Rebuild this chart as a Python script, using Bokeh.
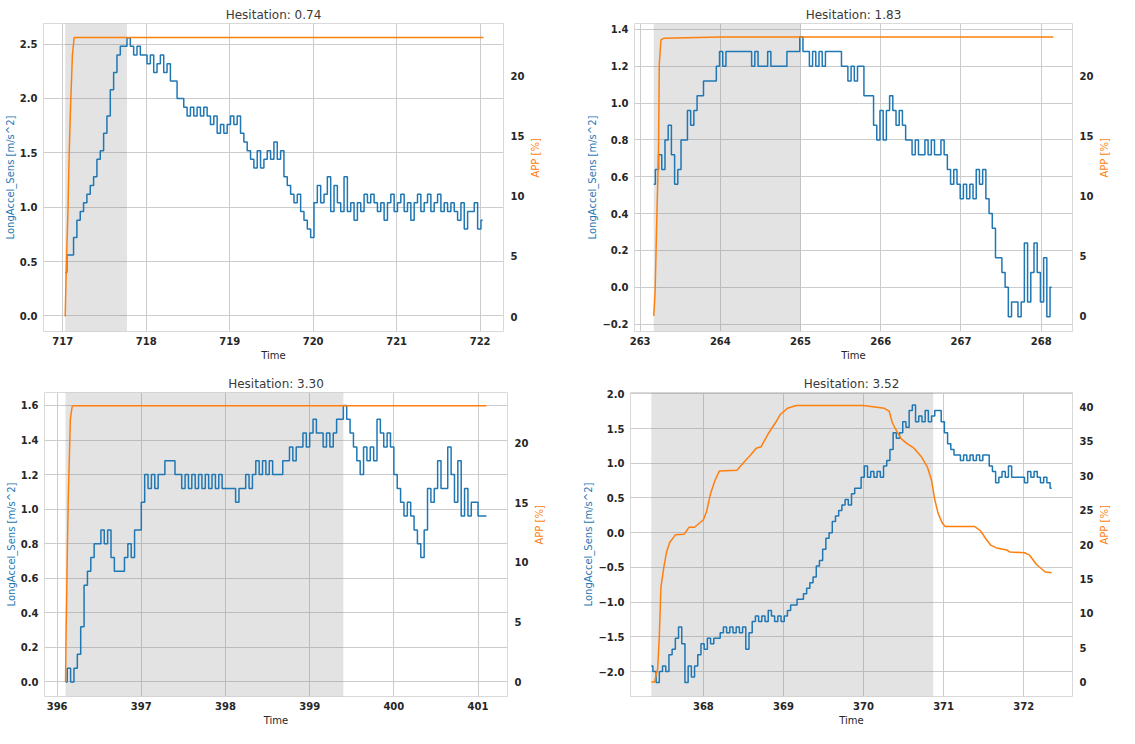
import math
import numpy as np
from bokeh.plotting import figure
from bokeh.layouts import column, row
from bokeh.models import (Range1d, LinearAxis, BoxAnnotation, SingleIntervalTicker,
                          CustomJSTickFormatter)
from bokeh.embed import file_html
from bokeh.resources import INLINE

# ---------------- data ----------------
titles = ["Hesitation: 0.74", "Hesitation: 1.83", "Hesitation: 3.30", "Hesitation: 3.52"]
hesitation = [0.74, 1.83, 3.30, 3.52]
span_start = [717.03, 263.17, 396.10, 367.35]

dt = 0.04
accel_t0 = [717.03, 263.17, 396.10, 367.35]

accel_1 = [0.40, 0.56, 0.56, 0.72, 0.88, 0.96, 1.04, 1.12, 1.20, 1.28,
           1.44, 1.52, 1.68, 1.84, 2.08, 2.24, 2.40, 2.48, 2.48, 2.56,
           2.48, 2.40, 2.48, 2.40, 2.40, 2.32, 2.40, 2.24, 2.32, 2.40,
           2.24, 2.32, 2.16, 2.16, 2.00, 2.00, 1.92, 1.84, 1.92, 1.84,
           1.92, 1.84, 1.92, 1.84, 1.76, 1.84, 1.68, 1.76, 1.68, 1.76,
           1.84, 1.76, 1.84, 1.68, 1.60, 1.52, 1.44, 1.36, 1.52, 1.36,
           1.44, 1.52, 1.44, 1.60, 1.44, 1.52, 1.28, 1.20, 1.12, 1.04,
           1.12, 0.96, 0.88, 0.80, 0.72, 1.04, 1.20, 1.04, 1.12, 1.28,
           0.96, 1.20, 1.04, 0.96, 1.28, 0.96, 1.04, 0.88, 1.04, 0.96,
           1.12, 1.04, 1.12, 1.04, 0.96, 1.04, 0.88, 1.04, 1.12, 0.96,
           1.04, 1.12, 0.96, 1.04, 0.88, 1.04, 1.12, 0.96, 1.04, 1.12,
           0.96, 1.04, 1.12, 0.96, 1.04, 0.96, 1.04, 0.96, 0.88, 1.04,
           0.80, 0.96, 0.96, 1.04, 0.80, 0.88]

accel_2 = [0.56, 0.64, 0.72, 0.64, 0.80, 0.88, 0.72, 0.56, 0.64, 0.80,
           0.80, 0.96, 0.88, 0.96, 1.04, 1.04, 1.12, 1.12, 1.12, 1.12,
           1.20, 1.28, 1.20, 1.28, 1.28, 1.28, 1.28, 1.28, 1.28, 1.28,
           1.28, 1.20, 1.28, 1.20, 1.20, 1.20, 1.28, 1.20, 1.20, 1.20,
           1.20, 1.20, 1.28, 1.28, 1.28, 1.28, 1.36, 1.28, 1.28, 1.20,
           1.28, 1.20, 1.28, 1.20, 1.28, 1.28, 1.28, 1.28, 1.28, 1.20,
           1.20, 1.12, 1.20, 1.12, 1.20, 1.20, 1.04, 1.04, 1.04, 0.88,
           0.80, 0.96, 0.80, 0.96, 1.04, 0.96, 0.88, 0.96, 0.88, 0.80,
           0.80, 0.72, 0.80, 0.72, 0.72, 0.80, 0.72, 0.80, 0.72, 0.72,
           0.80, 0.72, 0.64, 0.56, 0.64, 0.56, 0.48, 0.56, 0.48, 0.56,
           0.48, 0.64, 0.56, 0.64, 0.48, 0.40, 0.32, 0.16, 0.16, 0.08,
           0.00, -0.16, -0.08, -0.08, -0.16, -0.08, 0.24, -0.08, 0.08, 0.24,
           0.08, -0.08, 0.16, -0.16, 0.00]

accel_3 = [0.00, 0.08, 0.00, 0.08, 0.16, 0.32, 0.56, 0.64, 0.72, 0.80,
           0.80, 0.88, 0.80, 0.88, 0.72, 0.64, 0.64, 0.64, 0.72, 0.80,
           0.72, 0.88, 0.88, 1.04, 1.20, 1.12, 1.20, 1.12, 1.20, 1.20,
           1.28, 1.28, 1.28, 1.20, 1.20, 1.12, 1.20, 1.12, 1.20, 1.12,
           1.20, 1.12, 1.20, 1.12, 1.20, 1.12, 1.20, 1.12, 1.12, 1.12,
           1.12, 1.04, 1.12, 1.12, 1.20, 1.12, 1.20, 1.28, 1.20, 1.28,
           1.20, 1.28, 1.20, 1.20, 1.20, 1.28, 1.28, 1.36, 1.28, 1.36,
           1.36, 1.44, 1.36, 1.44, 1.52, 1.44, 1.44, 1.36, 1.44, 1.36,
           1.44, 1.52, 1.52, 1.60, 1.52, 1.44, 1.36, 1.28, 1.20, 1.36,
           1.28, 1.36, 1.28, 1.52, 1.44, 1.36, 1.44, 1.36, 1.20, 1.12,
           1.04, 0.96, 1.04, 0.96, 0.88, 0.80, 0.72, 0.88, 1.12, 1.04,
           1.12, 1.28, 1.12, 1.12, 1.36, 1.20, 1.04, 1.28, 0.96, 1.12,
           0.96, 1.04, 1.04, 0.96, 0.96, 0.96]

accel_4 = [-1.92, -2.00, -2.16, -2.00, -1.92, -2.00, -1.76, -1.68, -1.52, -1.36,
           -1.60, -2.16, -1.92, -2.08, -1.92, -1.76, -1.60, -1.68, -1.52, -1.60,
           -1.52, -1.52, -1.44, -1.36, -1.44, -1.36, -1.44, -1.36, -1.44, -1.36,
           -1.68, -1.44, -1.28, -1.20, -1.28, -1.20, -1.28, -1.12, -1.20, -1.28,
           -1.20, -1.28, -1.20, -1.12, -1.04, -1.04, -0.96, -0.96, -0.88, -0.80,
           -0.72, -0.64, -0.48, -0.40, -0.24, -0.08, 0.00, 0.16, 0.24, 0.32,
           0.40, 0.48, 0.40, 0.56, 0.64, 0.64, 0.80, 0.96, 0.80, 0.88,
           0.80, 0.88, 0.80, 0.96, 1.04, 1.20, 1.44, 1.36, 1.44, 1.60,
           1.52, 1.76, 1.84, 1.60, 1.68, 1.60, 1.76, 1.60, 1.68, 1.76,
           1.76, 1.60, 1.44, 1.28, 1.20, 1.12, 1.12, 1.04, 1.12, 1.04,
           1.12, 1.04, 1.12, 1.04, 1.12, 1.12, 0.96, 0.88, 0.72, 0.80,
           0.88, 0.80, 0.96, 0.80, 0.80, 0.80, 0.80, 0.72, 0.88, 0.80,
           0.88, 0.80, 0.72, 0.80, 0.72, 0.64]

app_t_1 = [717.03, 717.043, 717.064, 717.077, 717.094, 717.116, 717.137, 722.04]
app_1 = [0.0, 4.1, 9.0, 13.3, 17.4, 21.7, 23.2, 23.2]

app_t_2 = [263.17, 263.187, 263.204, 263.217, 263.23, 263.239, 263.26, 263.30, 264.0, 268.15]
app_2 = [0.0, 2.0, 7.0, 10.5, 14.0, 21.0, 23.0, 23.15, 23.25, 23.25]

app_t_3 = [396.10, 396.106, 396.115, 396.123, 396.132, 396.145, 396.157, 396.179, 396.196, 401.10]
app_3 = [0.0, 3.9, 7.9, 11.7, 15.2, 18.7, 22.0, 23.05, 23.1, 23.1]

app_t_4 = [367.35, 367.39, 367.43, 367.45, 367.47, 367.505, 367.54, 367.58, 367.65, 367.76,
           367.82, 367.89, 367.96, 368.00, 368.04, 368.09, 368.145, 368.20, 368.42, 368.50,
           368.59, 368.66, 368.72, 368.81, 368.90, 368.96, 369.05, 369.16, 370.00, 370.26,
           370.32, 370.36, 370.41, 370.47, 370.54, 370.63, 370.72, 370.80, 370.85, 370.89,
           370.93, 370.98, 371.02, 371.39, 371.46, 371.53, 371.59, 371.66, 371.79, 371.83,
           372.01, 372.07, 372.16, 372.23, 372.27, 372.35]
app_4 = [0.0, 0.0, 2.0, 6.7, 13.8, 16.6, 18.9, 20.3, 21.4, 21.5,
         22.5, 22.5, 23.2, 23.6, 24.8, 27.4, 29.3, 30.7, 30.8, 31.9,
         33.0, 34.0, 34.2, 36.1, 37.7, 38.9, 39.8, 40.2, 40.2, 39.8,
         39.4, 37.7, 36.6, 35.4, 34.7, 34.0, 32.8, 31.2, 29.3, 26.5,
         24.6, 23.2, 22.6, 22.6, 22.0, 20.8, 19.9, 19.5, 19.2, 18.9,
         18.8, 18.5, 17.1, 16.4, 16.0, 15.9]

accels = [accel_1, accel_2, accel_3, accel_4]
app_ts = [app_t_1, app_t_2, app_t_3, app_t_4]
apps = [app_1, app_2, app_3, app_4]

# ---------------- layout / style ----------------
x_lims = [(716.77, 722.28), (262.93, 268.39), (395.85, 401.35), (367.09, 372.61)]
yl_lims = [(-0.144, 2.69), (-0.240, 1.432), (-0.084, 1.675), (-2.36, 2.02)]
yr_lims = [(-1.245, 24.36), (-1.30, 24.37), (-1.22, 24.2), (-2.1, 42.1)]
yl_step = [0.5, 0.2, 0.2, 0.5]
borders = [  # left, right, top, bottom
    (43, 56, 23, 33),
    (75, 37, 23, 33),
    (44, 52, 28, 30),
    (71, 39, 28, 30),
]

BLUE = "#1f77b4"
ORANGE = "#ff7f0e"
FONT = "DejaVu Sans"
W, H = 559, 364

yfmt_code = """
const v = Math.abs(tick) < 1e-9 ? 0 : tick;
return v.toFixed(1).replace('-', '\u2212');
"""


def make_panel(k):
    bl, br, bt, bb = borders[k]
    p = figure(width=W, height=H, output_backend="svg", toolbar_location=None,
               x_range=Range1d(*x_lims[k]), y_range=Range1d(*yl_lims[k]),
               min_border_left=bl, min_border_right=br,
               min_border_top=bt, min_border_bottom=bb)
    p.background_fill_color = "white"
    p.border_fill_color = "white"
    p.outline_line_color = "#d9d9d9"
    p.outline_line_width = 1

    p.title.text = titles[k]
    p.title.align = "center"
    p.title.text_font = FONT
    p.title.text_font_size = "12px"
    p.title.text_font_style = "normal"
    p.title.text_color = "#3a3a3a"
    p.title.standoff = 3

    p.extra_y_ranges = {"app": Range1d(*yr_lims[k])}

    # grid
    p.xgrid.grid_line_color = "#cccccc"
    p.ygrid.grid_line_color = "#cccccc"
    p.xgrid.grid_line_width = 1
    p.ygrid.grid_line_width = 1

    # x axis
    xa = p.xaxis[0]
    xa.ticker = SingleIntervalTicker(interval=1, num_minor_ticks=0)
    xa.axis_label = "Time"
    # left axis
    ya = p.yaxis[0]
    ya.ticker = SingleIntervalTicker(interval=yl_step[k], num_minor_ticks=0)
    ya.formatter = CustomJSTickFormatter(code=yfmt_code)
    ya.axis_label = "LongAccel_Sens [m/s^2]"
    ya.axis_label_text_color = BLUE
    # right axis
    ra = LinearAxis(y_range_name="app", axis_label="APP [%]",
                    ticker=SingleIntervalTicker(interval=5, num_minor_ticks=0))
    ra.axis_label_text_color = ORANGE
    try:
        ra.axis_label_orientation = math.pi / 2
    except Exception:
        pass
    p.add_layout(ra, "right")

    for ax in (xa, ya, ra):
        ax.axis_line_color = None
        ax.major_tick_line_color = None
        ax.minor_tick_line_color = None
        ax.major_tick_out = 0
        ax.major_tick_in = 0
        ax.minor_tick_out = 0
        ax.minor_tick_in = 0
        ax.major_label_text_font = FONT
        ax.major_label_text_font_style = "bold"
        ax.major_label_text_font_size = "10px"
        ax.major_label_text_color = "#262626"
        ax.axis_label_text_font = FONT
        ax.axis_label_text_font_style = "normal"
        ax.axis_label_text_font_size = "10px"
    xa.axis_label_text_color = "#262626"
    xa.major_label_standoff = 5
    xa.axis_label_standoff = 2
    ya.major_label_standoff = 6
    ya.axis_label_standoff = 1
    ra.major_label_standoff = 7
    ra.axis_label_standoff = 8

    # hesitation window
    box = BoxAnnotation(left=span_start[k], right=span_start[k] + hesitation[k],
                        fill_color="#7f7f7f", fill_alpha=0.22, line_color=None,
                        level="underlay")
    p.add_layout(box)

    t = accel_t0[k] + dt * np.arange(len(accels[k]))
    p.step(t, accels[k], mode="center", line_color=BLUE, line_width=1.5)
    p.line(app_ts[k], apps[k], line_color=ORANGE, line_width=1.5, y_range_name="app")
    return p


panels = [make_panel(k) for k in range(4)]
layout = column(row(panels[0], panels[1]), row(panels[2], panels[3]))

open("out.html", "w").write(file_html(layout, INLINE))
